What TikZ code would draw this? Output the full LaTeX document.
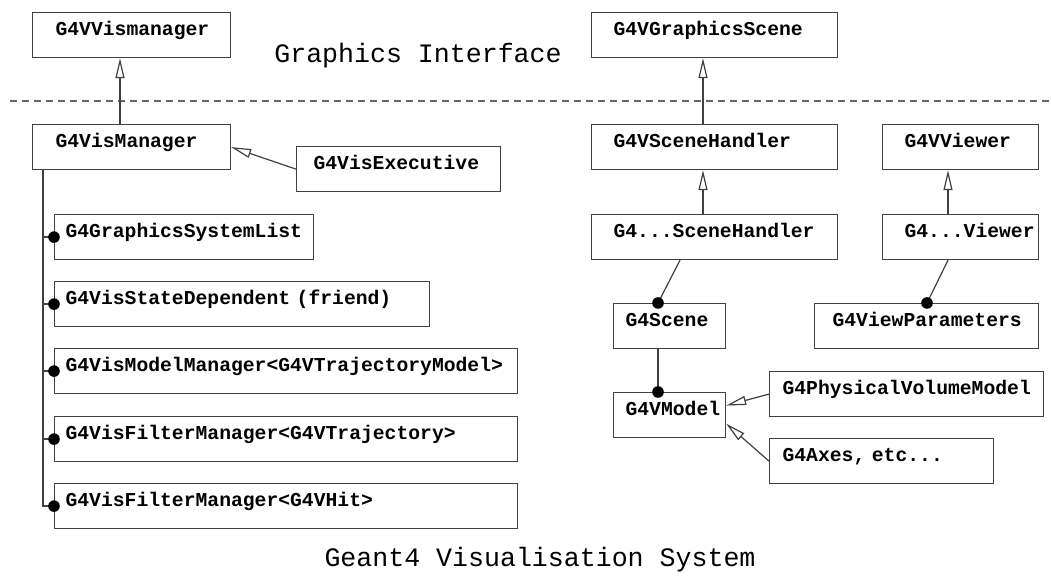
\documentclass[tikz,border=0pt]{standalone}
\usepackage{fontspec}
\setmonofont{Liberation Mono}
\usetikzlibrary{arrows.meta}

\tikzset{
  cls/.style={draw=black!75, line width=0.6pt, anchor=north west, align=left,
    inner ysep=0pt, text height=11.25pt, text depth=11.25pt,
    font=\ttfamily\bfseries\fontsize{9.85}{12}\selectfont},
  title/.style={anchor=base, font=\ttfamily\fontsize{13.3}{16}\selectfont},
  inherit/.style={draw=black!75, line width=0.6pt, -{Triangle[open,length=10pt,width=4.5pt]}},
  assoc/.style={draw=black!75, line width=0.6pt},
}

\begin{document}
\begin{tikzpicture}[x=0.5pt,y=-0.5pt]
	\useasboundingbox (0,0) rectangle (1051,587);
	% Titles
	\node[title] (gi) at (418,63) {Graphics Interface};
	\node[title] (gvs) at (540,567) {Geant4 Visualisation System};
	% Separator
	\coordinate (sepl) at (10,101);
	\coordinate (sepr) at (1051,101);
	\draw[black!60, line width=0.6pt, dash pattern=on 3.5pt off 2.5pt] (sepl) -- (sepr);
	% Vis manager classes
	\node[cls, inner xsep=11.5pt, text width=76pt] (vvm) at (32,12) {G4VVismanager};
	\node[cls, inner xsep=11.5pt, text width=76pt] (vm) at (32,124) {G4VisManager};
	\node[cls, inner xsep=8.5pt, text width=85pt] (vexec) at (296,146) {G4VisExecutive};
	\node[cls, inner xsep=5.5pt, text width=118.5pt] (gsl) at (54,214) {G4GraphicsSystemList};
	\node[cls, inner xsep=5.5pt, text width=176.5pt] (vsd) at (54,281) {G4VisStateDependent (friend)};
	\node[cls, inner xsep=5.5pt, text width=220.5pt] (vmm) at (54,348) {G4VisModelManager<G4VTrajectoryModel>};
	\node[cls, inner xsep=5.5pt, text width=220.5pt] (vfmt) at (54,416) {G4VisFilterManager<G4VTrajectory>};
	\node[cls, inner xsep=5.5pt, text width=220.5pt] (vfmh) at (54,483) {G4VisFilterManager<G4VHit>};
	% Scene and viewer classes
	\node[cls, inner xsep=11pt, text width=101pt] (vgs) at (591,12) {G4VGraphicsScene};
	\node[cls, inner xsep=11pt, text width=101pt] (vsh) at (591,124) {G4VSceneHandler};
	\node[cls, inner xsep=11pt, text width=101pt] (xsh) at (591,214) {G4...SceneHandler};
	\node[cls, inner xsep=11pt, text width=56pt] (vv) at (882,124) {G4VViewer};
	\node[cls, inner xsep=11pt, text width=56pt] (xv) at (882,214) {G4...Viewer};
	\node[cls, inner xsep=6pt, text width=44pt] (sc) at (613,303) {G4Scene};
	\node[cls, inner xsep=6pt, text width=44pt] (vmod) at (613,392) {G4VModel};
	\node[cls, inner xsep=9pt, text width=94pt] (vp) at (814,303) {G4ViewParameters};
	\node[cls, inner xsep=6.5pt, text width=124pt] (pvm) at (769,371) {G4PhysicalVolumeModel};
	\node[cls, inner xsep=6.5pt, text width=99pt] (axes) at (769,438) {G4Axes, etc...};
	% Inheritance
	\draw[inherit] ([xshift=44pt]vm.north west) -- ([xshift=44pt]vvm.south west);
	\draw[inherit] (vexec.west) -- (vm.east);
	\draw[inherit] ([xshift=56pt]vsh.north west) -- ([xshift=56pt]vgs.south west);
	\draw[inherit] ([xshift=56pt]xsh.north west) -- ([xshift=56pt]vsh.south west);
	\draw[inherit] ([xshift=33pt]xv.north west) -- ([xshift=33pt]vv.south west);
	\draw[inherit] (pvm.west) -- ([yshift=4.75pt]vmod.east);
	\draw[inherit] (axes.west) -- ([yshift=-4.25pt]vmod.east);
	% Associations
	\coordinate (bus) at ([xshift=5.5pt]vm.south west);
	\foreach \n in {gsl,vsd,vmm,vfmt,vfmh}{
		\draw[assoc] (bus) |- (\n.west);
		\fill (\n.west) circle (2.9pt);
	}
	\draw[assoc] ([xshift=44.5pt]xsh.south west) -- ([xshift=22.5pt]sc.north west);
	\fill ([xshift=22.5pt]sc.north west) circle (2.9pt);
	\draw[assoc] ([xshift=33pt]xv.south west) -- ([xshift=56.5pt]vp.north west);
	\fill ([xshift=56.5pt]vp.north west) circle (2.9pt);
	\draw[assoc] ([xshift=22.5pt]sc.south west) -- ([xshift=22.5pt]vmod.north west);
	\fill ([xshift=22.5pt]vmod.north west) circle (2.9pt);
\end{tikzpicture}
\end{document}
